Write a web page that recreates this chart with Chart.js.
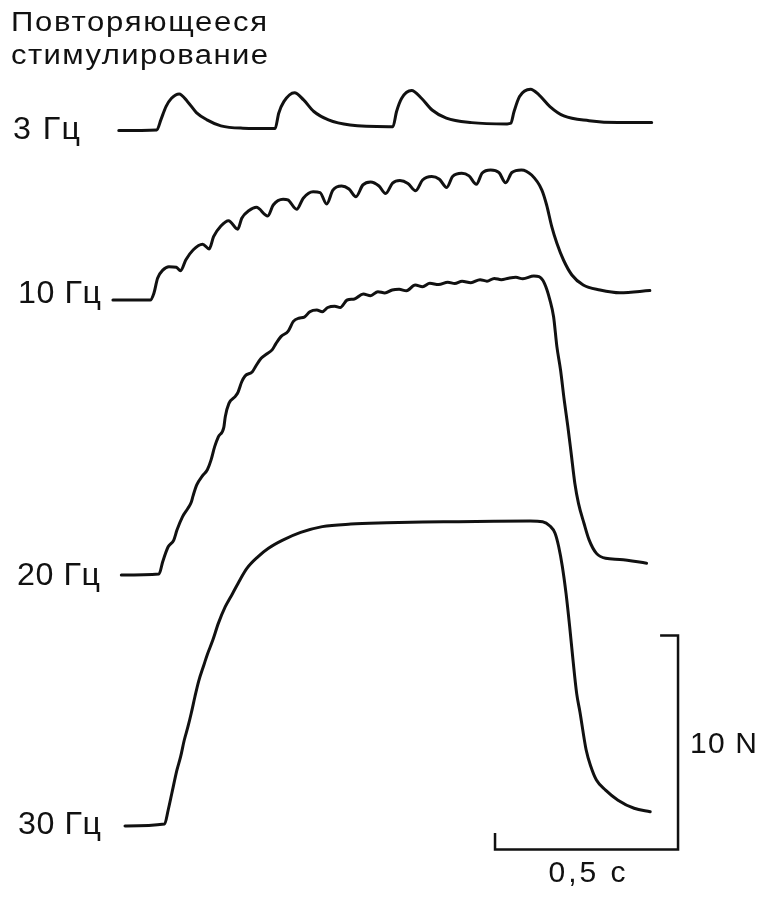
<!DOCTYPE html>
<html lang="ru">
<head>
<meta charset="utf-8">
<title>Повторяющееся стимулирование</title>
<script src="https://cdn.jsdelivr.net/npm/chart.js@4.4.1/dist/chart.umd.min.js"></script>
<style>
  html, body { margin: 0; padding: 0; background: #fff; }
  canvas { display: block; }
</style>
</head>
<body>
<canvas id="chart" width="765" height="899"></canvas>
<script>
// Данные: время (мс от начала стимуляции) и сила (Н) для каждой частоты
const labels = ['3 Гц', '10 Гц', '20 Гц', '30 Гц'];

const t3 = [-99, 5, 16, 30, 45, 66, 89, 113, 142, 180, 240, 328, 338, 352, 381, 406, 434, 474, 533, 639,
  650, 660, 674, 701, 728, 757, 796, 865, 962, 972, 981, 996, 1026, 1049, 1079, 1117, 1186, 1265, 1357];
const f3 = [-0.03, 0, 0.47, 1.09, 1.48, 1.68, 1.32, 0.81, 0.47, 0.19, 0.08, 0.06, 0.78, 1.32, 1.74, 1.40, 0.86, 0.47, 0.23, 0.15,
  0.15, 0.86, 1.48, 1.84, 1.48, 0.93, 0.55, 0.34, 0.28, 0.31, 0.86, 1.56, 1.90, 1.64, 1.09, 0.65, 0.43, 0.34, 0.34];

const t10 = [-115, -13, -3, 7, 22, 38, 58, 70, 84, 104, 130, 148, 160, 180, 201, 226, 237, 257, 277, 308,
  323, 350, 363, 387, 405, 432, 451, 469, 486, 510, 530, 549, 568, 589, 612, 630, 649, 669, 691, 712,
  731, 756, 777, 797, 813, 838, 858, 878, 894, 917, 940, 958, 975, 1001, 1029, 1057, 1070, 1084, 1098, 1116,
  1139, 1170, 1216, 1270, 1352];
const f10 = [-0.05, -0.05, 0.27, 0.97, 1.36, 1.51, 1.48, 1.32, 1.82, 2.29, 2.56, 2.34, 2.91, 3.41, 3.66, 3.26, 3.77, 4.13, 4.28, 3.88,
  4.39, 4.66, 4.63, 4.19, 4.71, 5.01, 4.97, 4.44, 5.09, 5.28, 5.14, 4.78, 5.33, 5.47, 5.28, 4.93, 5.41, 5.53, 5.40, 5.06,
  5.56, 5.72, 5.59, 5.21, 5.72, 5.87, 5.75, 5.36, 5.89, 6.03, 5.90, 5.43, 5.91, 6.03, 5.79, 5.09, 4.39, 3.38, 2.60, 1.82,
  1.12, 0.65, 0.42, 0.29, 0.39];

const t20 = [-92, 11, 21, 36, 51, 60, 75, 90, 99, 104, 114, 129, 143, 153, 163, 173, 188, 192, 202, 220,
  227, 237, 246, 266, 276, 290, 305, 320, 330, 344, 364, 378, 393, 408, 423, 442, 457, 472, 491, 506,
  525, 545, 569, 589, 609, 628, 648, 667, 687, 711, 731, 751, 775, 800, 819, 839, 863, 888, 907, 927,
  946, 966, 986, 1005, 1035, 1049, 1064, 1079, 1089, 1098, 1108, 1118, 1128, 1137, 1147, 1157, 1172, 1186, 1206, 1231,
  1270, 1343];
const f20 = [0, 0.05, 0.62, 1.32, 1.62, 2.10, 2.72, 3.12, 3.40, 3.70, 4.21, 4.62, 4.92, 5.37, 6.00, 6.46, 6.90, 7.40, 8.02, 8.36,
  8.55, 9.03, 9.30, 9.50, 9.78, 10.13, 10.33, 10.52, 10.80, 11.14, 11.40, 11.85, 12.00, 12.05, 12.30, 12.38, 12.30, 12.50, 12.56, 12.50,
  12.85, 12.90, 13.13, 13.05, 13.24, 13.18, 13.32, 13.35, 13.28, 13.55, 13.47, 13.63, 13.57, 13.68, 13.62, 13.73, 13.66, 13.80, 13.73, 13.86,
  13.80, 13.87, 13.91, 13.84, 13.97, 13.94, 13.63, 12.85, 12.07, 10.67, 9.58, 8.18, 6.93, 5.69, 4.29, 3.35, 2.42, 1.64, 1.01, 0.78,
  0.73, 0.55];

const t30 = [-82, 26, 36, 46, 60, 70, 80, 90, 99, 109, 119, 134, 143, 158, 173, 192, 212, 232, 251, 281,
  310, 349, 398, 457, 535, 633, 731, 829, 927, 1025, 1059, 1079, 1093, 1103, 1113, 1123, 1133, 1142, 1152, 1161,
  1178, 1191, 1206, 1231, 1265, 1309, 1353];
const f30 = [0, 0.09, 0.75, 1.53, 2.62, 3.24, 4.02, 4.64, 5.27, 6.04, 6.75, 7.55, 8.02, 8.69, 9.47, 10.25, 10.87, 11.50, 12.04, 12.58,
  12.98, 13.36, 13.72, 13.99, 14.11, 14.17, 14.21, 14.22, 14.24, 14.25, 14.22, 14.02, 13.68, 13.05, 12.12, 10.87, 9.31, 7.76, 6.20, 5.33,
  3.55, 2.77, 2.15, 1.68, 1.21, 0.83, 0.67];

// Масштабные отрезки
const SCALE_FORCE = 10;   // Н
const SCALE_TIME = 500;   // мс (0,5 с)

// Раскладка: сдвиги кривых по вертикали (Н) и угол масштабной метки
const offsets = [35.94, 28.04, 15.14, 3.41];
const labelX = [13, 18, 17, 18];
const labelDy = [1, -5, 1, -1];
const barCorner = { t: 1429, f: 2.31 };
const barTick = { t: 49, f: 0.77 };

const traces = [[t3, f3], [t10, f10], [t20, f20], [t30, f30]];

const datasets = traces.map(([t, f], k) => ({
  label: labels[k],
  data: t.map((v, i) => ({ x: v, y: f[i] + offsets[k] })),
  borderColor: '#111',
  borderWidth: 3,
  pointRadius: 0,
  cubicInterpolationMode: 'monotone',
  borderCapStyle: 'round',
  borderJoinStyle: 'round'
}));

// Скоба масштаба: 10 N по вертикали, 0,5 с по горизонтали
datasets.push({
  label: 'scale',
  data: [
    { x: barCorner.t - barTick.t, y: barCorner.f + SCALE_FORCE },
    { x: barCorner.t, y: barCorner.f + SCALE_FORCE },
    { x: barCorner.t, y: barCorner.f },
    { x: barCorner.t - SCALE_TIME, y: barCorner.f },
    { x: barCorner.t - SCALE_TIME, y: barCorner.f + barTick.f }
  ],
  borderColor: '#111',
  borderWidth: 2.5,
  pointRadius: 0,
  tension: 0
});

// Текст нужной ширины: немного растягиваем глифы, остаток добираем интервалом
function drawText(ctx, text, x, y, size, width, stretch) {
  ctx.save();
  ctx.font = size + 'px "Liberation Sans", Arial, sans-serif';
  ctx.letterSpacing = '0px';
  const w = ctx.measureText(text).width * stretch;
  const gap = Math.max((width - w) / Math.max(text.length - 1, 1), 0) / stretch;
  ctx.letterSpacing = gap.toFixed(2) + 'px';
  ctx.translate(x, y);
  ctx.scale(stretch, 1);
  ctx.fillText(text, 0, 0);
  ctx.restore();
}

const textPlugin = {
  id: 'texts',
  afterDraw(chart) {
    const ctx = chart.ctx;
    const ys = chart.scales.y;
    const xs = chart.scales.x;
    ctx.fillStyle = '#111';
    ctx.textBaseline = 'alphabetic';
    ctx.textAlign = 'left';

    drawText(ctx, 'Повторяющееся', 11, 31, 27, 256, 1.15);
    drawText(ctx, 'стимулирование', 11, 64, 27, 257, 1.15);

    const labelW = [67, 83, 83, 83];
    ctx.textBaseline = 'middle';
    labels.forEach((txt, k) => {
      const y = ys.getPixelForValue(offsets[k]) + labelDy[k];
      drawText(ctx, txt, labelX[k], y, 31, labelW[k], 1.04);
    });

    ctx.textBaseline = 'alphabetic';
    const xr = xs.getPixelForValue(barCorner.t);
    const yMid = ys.getPixelForValue(barCorner.f + SCALE_FORCE / 2);
    drawText(ctx, '10 N', xr + 12, yMid + 10, 30, 67, 1.0);
    const xMid = xs.getPixelForValue(barCorner.t - SCALE_TIME / 2);
    const yb = ys.getPixelForValue(barCorner.f);
    drawText(ctx, '0,5 с', xMid - 38, yb + 32, 30, 77, 1.0);
  }
};

new Chart(document.getElementById('chart'), {
  type: 'line',
  data: { datasets },
  options: {
    responsive: false,
    devicePixelRatio: 1,
    animation: false,
    layout: { padding: 0 },
    plugins: { legend: { display: false }, tooltip: { enabled: false } },
    scales: {
      x: { type: 'linear', display: false, min: -423.5, max: 1666.6 },
      y: { type: 'linear', display: false, min: 0, max: 42.01 }
    }
  },
  plugins: [textPlugin]
});
</script>
</body>
</html>
